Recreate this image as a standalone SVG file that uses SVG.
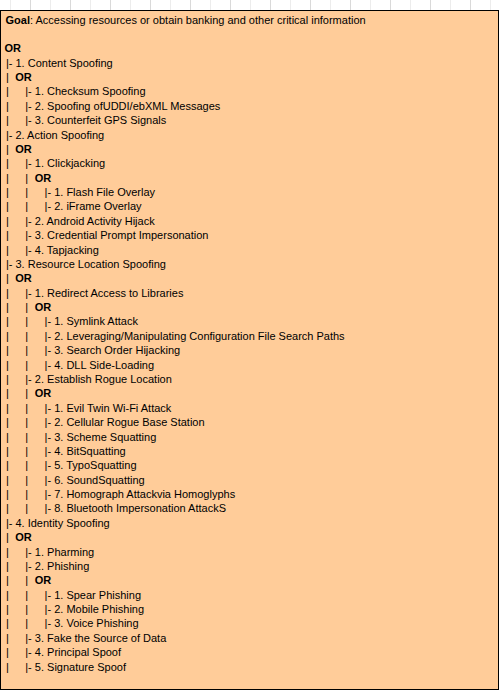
<svg xmlns="http://www.w3.org/2000/svg" width="500" height="691" viewBox="0 0 500 691">
<style>
.t{font-family:"Liberation Sans",Arial,sans-serif;font-size:11px;fill:#000}
.b{font-weight:bold}
.g1{stroke:#ececec;stroke-width:1}
.g2{stroke:#d9d9d9;stroke-width:1}
</style>
<rect x="0" y="0" width="500" height="691" fill="#fff"/>
<g id="grid">
<path class="g1" d="M10.5 0V10M50.5 0V10M90.5 0V10M130.5 0V10M170.5 0V10M210.5 0V10M250.5 0V10M290.5 0V10M330.5 0V10M370.5 0V10M410.5 0V10M450.5 0V10M490.5 0V10"/>
<path class="g2" d="M30.5 0V10M70.5 0V10M110.5 0V10M150.5 0V10M190.5 0V10M230.5 0V10M270.5 0V10M310.5 0V10M350.5 0V10M390.5 0V10M430.5 0V10M470.5 0V10"/>
</g>
<rect id="box" x="0.5" y="10.5" width="498" height="679" fill="#FFCC99" stroke="#000" stroke-width="1"/>
<g id="goal"><text class="t" x="5.5" y="23.5"><tspan class="b">Goal</tspan>: Accessing resources or obtain banking and other critical information</text></g>
<g id="or0"><text class="t b" x="4.5" y="52.26">OR</text></g>
<g id="n1"><text class="t" y="66.64"><tspan x="5.9">|- 1. Content Spoofing</tspan></text></g>
<g id="n1-or"><text class="t" y="81.02"><tspan x="5.9">|</tspan><tspan x="15.3" class="b">OR</tspan></text></g>
<g id="n1-1"><text class="t" y="95.4"><tspan x="5.9">|</tspan><tspan x="25.25">|- 1. Checksum Spoofing</tspan></text></g>
<g id="n1-2"><text class="t" y="109.78"><tspan x="5.9">|</tspan><tspan x="25.25">|- 2. Spoofing ofUDDI/ebXML Messages</tspan></text></g>
<g id="n1-3"><text class="t" y="124.16"><tspan x="5.9">|</tspan><tspan x="25.25">|- 3. Counterfeit GPS Signals</tspan></text></g>
<g id="n2"><text class="t" y="138.54"><tspan x="5.9">|- 2. Action Spoofing</tspan></text></g>
<g id="n2-or"><text class="t" y="152.92"><tspan x="5.9">|</tspan><tspan x="15.3" class="b">OR</tspan></text></g>
<g id="n2-1"><text class="t" y="167.3"><tspan x="5.9">|</tspan><tspan x="25.25">|- 1. Clickjacking</tspan></text></g>
<g id="n2-1-or"><text class="t" y="181.68"><tspan x="5.9">|</tspan><tspan x="25.25">|</tspan><tspan x="34.65" class="b">OR</tspan></text></g>
<g id="n2-1-1"><text class="t" y="196.06"><tspan x="5.9">|</tspan><tspan x="25.25">|</tspan><tspan x="44.6">|- 1. Flash File Overlay</tspan></text></g>
<g id="n2-1-2"><text class="t" y="210.44"><tspan x="5.9">|</tspan><tspan x="25.25">|</tspan><tspan x="44.6">|- 2. iFrame Overlay</tspan></text></g>
<g id="n2-2"><text class="t" y="224.82"><tspan x="5.9">|</tspan><tspan x="25.25">|- 2. Android Activity Hijack</tspan></text></g>
<g id="n2-3"><text class="t" y="239.2"><tspan x="5.9">|</tspan><tspan x="25.25">|- 3. Credential Prompt Impersonation</tspan></text></g>
<g id="n2-4"><text class="t" y="253.58"><tspan x="5.9">|</tspan><tspan x="25.25">|- 4. Tapjacking</tspan></text></g>
<g id="n3"><text class="t" y="267.96"><tspan x="5.9">|- 3. Resource Location Spoofing</tspan></text></g>
<g id="n3-or"><text class="t" y="282.34"><tspan x="5.9">|</tspan><tspan x="15.3" class="b">OR</tspan></text></g>
<g id="n3-1"><text class="t" y="296.72"><tspan x="5.9">|</tspan><tspan x="25.25">|- 1. Redirect Access to Libraries</tspan></text></g>
<g id="n3-1-or"><text class="t" y="311.1"><tspan x="5.9">|</tspan><tspan x="25.25">|</tspan><tspan x="34.65" class="b">OR</tspan></text></g>
<g id="n3-1-1"><text class="t" y="325.48"><tspan x="5.9">|</tspan><tspan x="25.25">|</tspan><tspan x="44.6">|- 1. Symlink Attack</tspan></text></g>
<g id="n3-1-2"><text class="t" y="339.86"><tspan x="5.9">|</tspan><tspan x="25.25">|</tspan><tspan x="44.6">|- 2. Leveraging/Manipulating Configuration File Search Paths</tspan></text></g>
<g id="n3-1-3"><text class="t" y="354.24"><tspan x="5.9">|</tspan><tspan x="25.25">|</tspan><tspan x="44.6">|- 3. Search Order Hijacking</tspan></text></g>
<g id="n3-1-4"><text class="t" y="368.62"><tspan x="5.9">|</tspan><tspan x="25.25">|</tspan><tspan x="44.6">|- 4. DLL Side-Loading</tspan></text></g>
<g id="n3-2"><text class="t" y="383"><tspan x="5.9">|</tspan><tspan x="25.25">|- 2. Establish Rogue Location</tspan></text></g>
<g id="n3-2-or"><text class="t" y="397.38"><tspan x="5.9">|</tspan><tspan x="25.25">|</tspan><tspan x="34.65" class="b">OR</tspan></text></g>
<g id="n3-2-1"><text class="t" y="411.76"><tspan x="5.9">|</tspan><tspan x="25.25">|</tspan><tspan x="44.6">|- 1. Evil Twin Wi-Fi Attack</tspan></text></g>
<g id="n3-2-2"><text class="t" y="426.14"><tspan x="5.9">|</tspan><tspan x="25.25">|</tspan><tspan x="44.6">|- 2. Cellular Rogue Base Station</tspan></text></g>
<g id="n3-2-3"><text class="t" y="440.52"><tspan x="5.9">|</tspan><tspan x="25.25">|</tspan><tspan x="44.6">|- 3. Scheme Squatting</tspan></text></g>
<g id="n3-2-4"><text class="t" y="454.9"><tspan x="5.9">|</tspan><tspan x="25.25">|</tspan><tspan x="44.6">|- 4. BitSquatting</tspan></text></g>
<g id="n3-2-5"><text class="t" y="469.28"><tspan x="5.9">|</tspan><tspan x="25.25">|</tspan><tspan x="44.6">|- 5. TypoSquatting</tspan></text></g>
<g id="n3-2-6"><text class="t" y="483.66"><tspan x="5.9">|</tspan><tspan x="25.25">|</tspan><tspan x="44.6">|- 6. SoundSquatting</tspan></text></g>
<g id="n3-2-7"><text class="t" y="498.04"><tspan x="5.9">|</tspan><tspan x="25.25">|</tspan><tspan x="44.6">|- 7. Homograph Attackvia Homoglyphs</tspan></text></g>
<g id="n3-2-8"><text class="t" y="512.42"><tspan x="5.9">|</tspan><tspan x="25.25">|</tspan><tspan x="44.6">|- 8. Bluetooth Impersonation AttackS</tspan></text></g>
<g id="n4"><text class="t" y="526.8"><tspan x="5.9">|- 4. Identity Spoofing</tspan></text></g>
<g id="n4-or"><text class="t" y="541.18"><tspan x="5.9">|</tspan><tspan x="15.3" class="b">OR</tspan></text></g>
<g id="n4-1"><text class="t" y="555.56"><tspan x="5.9">|</tspan><tspan x="25.25">|- 1. Pharming</tspan></text></g>
<g id="n4-2"><text class="t" y="569.94"><tspan x="5.9">|</tspan><tspan x="25.25">|- 2. Phishing</tspan></text></g>
<g id="n4-2-or"><text class="t" y="584.32"><tspan x="5.9">|</tspan><tspan x="25.25">|</tspan><tspan x="34.65" class="b">OR</tspan></text></g>
<g id="n4-2-1"><text class="t" y="598.7"><tspan x="5.9">|</tspan><tspan x="25.25">|</tspan><tspan x="44.6">|- 1. Spear Phishing</tspan></text></g>
<g id="n4-2-2"><text class="t" y="613.08"><tspan x="5.9">|</tspan><tspan x="25.25">|</tspan><tspan x="44.6">|- 2. Mobile Phishing</tspan></text></g>
<g id="n4-2-3"><text class="t" y="627.46"><tspan x="5.9">|</tspan><tspan x="25.25">|</tspan><tspan x="44.6">|- 3. Voice Phishing</tspan></text></g>
<g id="n4-3"><text class="t" y="641.84"><tspan x="5.9">|</tspan><tspan x="25.25">|- 3. Fake the Source of Data</tspan></text></g>
<g id="n4-4"><text class="t" y="656.22"><tspan x="5.9">|</tspan><tspan x="25.25">|- 4. Principal Spoof</tspan></text></g>
<g id="n4-5"><text class="t" y="670.6"><tspan x="5.9">|</tspan><tspan x="25.25">|- 5. Signature Spoof</tspan></text></g>
</svg>
